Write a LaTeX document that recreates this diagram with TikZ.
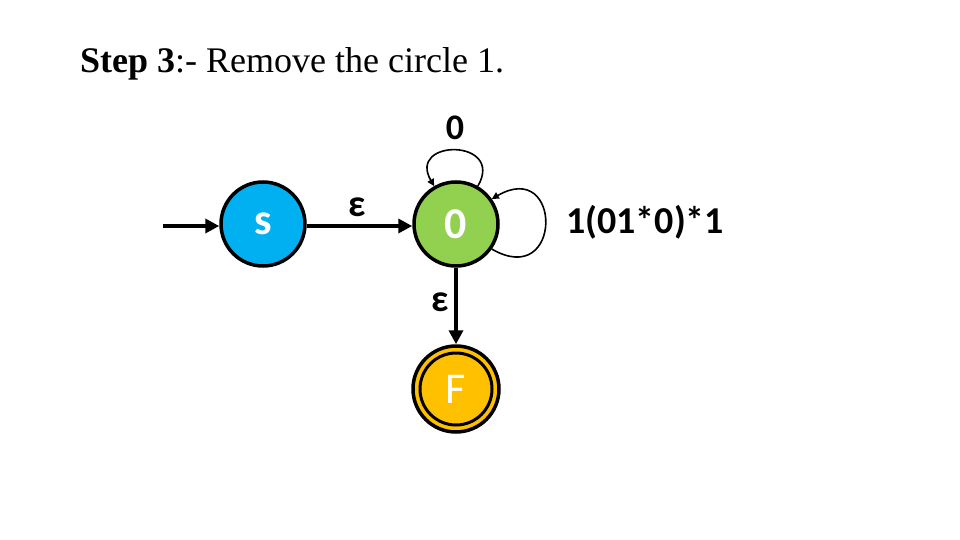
\documentclass[tikz,border=0pt]{standalone}
\usepackage{fontspec}
\setmainfont{Carlito}
\newfontfamily\timesfont{Liberation Serif}
\usetikzlibrary{arrows.meta}
\definecolor{scyan}{RGB}{0,176,240}
\definecolor{sgreen}{RGB}{146,208,80}
\definecolor{sorange}{RGB}{255,192,0}
\begin{document}
\begin{tikzpicture}[x=1pt,y=-1pt,
  state/.style={circle,draw=black,line width=3.5pt,minimum size=84pt,inner sep=0pt,text=white,font=\bfseries\fontsize{44}{46}\selectfont},
  edge/.style={line width=4pt,-{Triangle[length=14pt,width=14pt]}},
  loopedge/.style={line width=1.6pt,-{Triangle[length=7pt,width=7pt]}},
  lbl/.style={font=\bfseries\fontsize{38}{40}\selectfont,inner sep=0pt}]
\useasboundingbox (0,0) rectangle (960,540);
\node[anchor=base west,inner sep=0pt,font=\timesfont\fontsize{36}{38}\selectfont] (title) at (80,73) {\textbf{Step 3}:- Remove the circle 1.};
\node[state,fill=scyan] (s) at (263,224) {s};
\node[state,fill=sgreen] (q0) at (456,224) {0};
\node[circle,draw=black,line width=3.5pt,fill=sorange,minimum size=86pt,inner sep=0pt] (f) at (456,389) {};
\node[circle,draw=black,line width=3pt,minimum size=72pt,inner sep=0pt,text=white,font=\fontsize{44}{46}\selectfont] (fin) at (456,389) {F};
\coordinate (start) at (163,226);
\draw[edge] (start) -- (s.west |- start);
\draw[edge] (s.east |- start) -- (q0.west |- start);
\draw[edge] (q0.south) -- (f.north);
\draw[loopedge] (q0.60) .. controls +(-60:55) and +(-120:55) .. (q0.120);
\draw[loopedge] (q0.-35) .. controls +(30:82) and +(-30:82) .. (q0.35);
\node[lbl,font=\bfseries\fontsize{36}{38}\selectfont] (l0) at (455,128) {0};
\node[lbl] (le1) at (357,207) {ε};
\node[lbl] (le2) at (440,302) {ε};
\node[lbl,anchor=west] (lre) at (566,222) {1(01*0)*1};
\end{tikzpicture}
\end{document}
